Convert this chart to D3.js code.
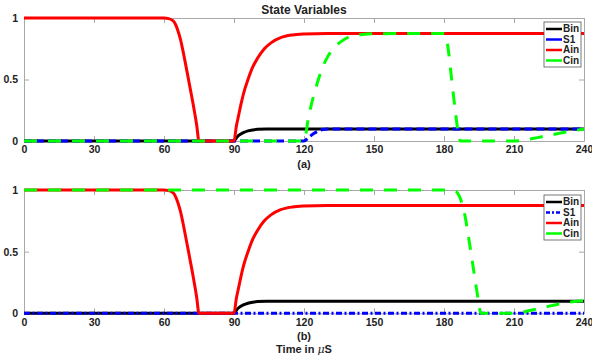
<!DOCTYPE html>
<html><head><meta charset="utf-8">
<script src="https://cdn.jsdelivr.net/npm/d3@7"></script>
<style>
body{margin:0;background:#fff;}
text{font-family:"Liberation Sans",Arial,sans-serif;font-weight:bold;fill:#222;}
</style></head>
<body><svg id="c" width="592" height="362"></svg>
<script>
// ---- data ----
const xTicks = [0,30,60,90,120,150,180,210,240];
const yTicks = [0,0.5,1];
const yTickLabels = ["0","0.5","1"];
const seriesNames = ["Bin","S1","Ain","Cin"];

// Panel (a)
const binA = [[0,0],[90,0],[91,0.025],[92,0.045],[94,0.068],[96,0.082],[98,0.09],[100,0.095],[104,0.097],[240,0.097]];
const s1A  = [[0,0],[120,0],[122,0.03],[124,0.058],[126,0.08],[128,0.093],[130,0.097],[240,0.097]];
const ainA = [[0,1],[60,1],[62,0.995],[64,0.975],[65,0.945],[66,0.895],[67,0.83],[68,0.745],[70,0.55],[72,0.35],[74,0.13],[75,0],[90,0],[91,0.12],[92,0.21],[93,0.3],[94,0.38],[96,0.5],[98,0.6],[100,0.67],[103,0.75],[106,0.8],[110,0.84],[115,0.862],[120,0.87],[130,0.875],[240,0.875]];
const cinA = [[0,0],[120,0],[122,0.2],[124,0.36],[126,0.49],[128,0.6],[130,0.68],[133,0.76],[136,0.81],[140,0.85],[145,0.866],[150,0.872],[180,0.875],[181,0.84],[182,0.72],[183,0.55],[184,0.38],[185,0.22],[186,0.08],[187,0],[210,0],[214,0.005],[218,0.02],[222,0.035],[226,0.05],[230,0.065],[235,0.082],[240,0.097]];

// Panel (b)
const binB = [[0,0],[90,0],[91,0.025],[92,0.045],[94,0.068],[96,0.082],[98,0.09],[100,0.095],[104,0.097],[240,0.097]];
const s1B  = [[0,0],[240,0]];
const ainB = [[0,1],[60,1],[62,0.995],[64,0.975],[65,0.945],[66,0.895],[67,0.83],[68,0.745],[70,0.55],[72,0.35],[74,0.13],[75,0],[90,0],[91,0.12],[92,0.21],[93,0.3],[94,0.38],[96,0.5],[98,0.6],[100,0.67],[103,0.75],[106,0.8],[110,0.84],[115,0.862],[120,0.87],[130,0.875],[240,0.875]];
const cinB = [[0,1],[183,1],[185,0.99],[186,0.97],[187,0.93],[188,0.87],[189,0.79],[190,0.68],[191,0.56],[192,0.44],[193,0.31],[194,0.19],[195,0.07],[195.7,0],[212,0],[215,0.015],[220,0.035],[225,0.058],[230,0.078],[235,0.093],[240,0.103]];

// ---- drawing ----
const svg = d3.select("#c");
const x = d3.scaleLinear([0,240],[24,584]);
const AX = "#a8a8a8";

const panels = [
  {y: d3.scaleLinear([0,1],[141,18]), data:[binA,s1A,ainA,cinA], s1dash:"8,4", s1leg:null, sub:"(a)", title:"State Variables", legTop:22},
  {y: d3.scaleLinear([0,1],[313.3,190]), data:[binB,s1B,ainB,cinB], s1dash:"6,2.5,2,2.5", s1leg:"4,2,2,2", sub:"(b)", xlabel:true, legTop:195}
];
const colors = ["#000000","#0000ff","#ff0000","#00ff00"];

panels.forEach(p => {
  const g = svg.append("g");
  const y = p.y;
  const [y0,y1] = y.range();
  const styleAxis = sel => { sel.selectAll("path,line").attr("stroke",AX); sel.selectAll("text").attr("fill","#222").style("font-size","10.5px").style("font-weight","bold"); };
  g.append("g").attr("transform",`translate(0,${y0})`)
    .call(d3.axisBottom(x).tickValues(xTicks).tickSize(-5).tickPadding(5).tickSizeOuter(0)).call(styleAxis);
  g.append("g").attr("transform",`translate(0,${y1})`)
    .call(d3.axisTop(x).tickValues(xTicks).tickSize(-5).tickSizeOuter(0).tickFormat("")).call(styleAxis);
  g.append("g").attr("transform",`translate(${x(0)},0)`)
    .call(d3.axisLeft(y).tickValues(yTicks).tickSize(-5).tickPadding(6).tickSizeOuter(0).tickFormat((d,i)=>yTickLabels[i])).call(styleAxis);
  g.append("g").attr("transform",`translate(${x(240)},0)`)
    .call(d3.axisRight(y).tickValues(yTicks).tickSize(-5).tickSizeOuter(0).tickFormat("")).call(styleAxis);
  g.selectAll(".domain").attr("stroke",AX);

  const line = d3.line().x(d=>x(d[0])).y(d=>y(d[1])).curve(d3.curveMonotoneX);
  const dashes = [null, p.s1dash, null, "13,11"];
  p.data.forEach((ds,i)=>{
    g.append("path").attr("d",line(ds)).attr("fill","none")
      .attr("stroke",colors[i]).attr("stroke-width",3)
      .attr("stroke-dasharray",dashes[i]).attr("stroke-linejoin","round");
  });

  // legend
  const lt = p.legTop;
  g.append("rect").attr("x",544).attr("y",lt).attr("width",37).attr("height",45)
    .attr("fill","#fff").attr("stroke","#555").attr("stroke-width",0.8);
  seriesNames.forEach((n,i)=>{
    const yy = lt+7+i*10.5;
    g.append("line").attr("x1",546).attr("x2",562).attr("y1",yy).attr("y2",yy)
      .attr("stroke",colors[i]).attr("stroke-width",2.5)
      .attr("stroke-dasharray", i===1 ? p.s1leg : null);
    g.append("text").attr("x",563).attr("y",yy+3.4).style("font-size","10px").text(n);
  });

  const cx = (x(0)+x(240))/2;
  g.append("text").attr("x",cx).attr("y",y0+27).attr("text-anchor","middle").style("font-size","11px").text(p.sub);
  if (p.title) g.append("text").attr("x",cx).attr("y",14).attr("text-anchor","middle").style("font-size","12px").text(p.title);
  if (p.xlabel) {
    const t = g.append("text").attr("x",cx).attr("y",y0+40).attr("text-anchor","middle").style("font-size","11px");
    t.append("tspan").text("Time in ");
    t.append("tspan").style("font-style","italic").style("font-weight","normal").style("font-family","'DejaVu Serif',serif").text("μ");
    t.append("tspan").text("S");
  }
});
</script></body></html>
